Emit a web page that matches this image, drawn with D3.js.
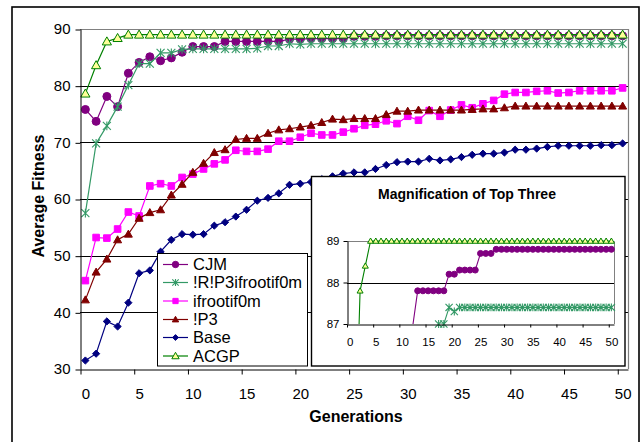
<!DOCTYPE html>
<html>
<head>
<meta charset="utf-8">
<script src="https://cdn.jsdelivr.net/npm/d3@7"></script>
<style>
  body { margin: 0; background: #fff; }
  svg { font-family: 'Liberation Sans', Arial, sans-serif; }
</style>
</head>
<body>
<svg id="chart" width="644" height="442"></svg>
<script>
const generations = [0, 1, 2, 3, 4, 5, 6, 7, 8, 9, 10, 11, 12, 13, 14, 15, 16, 17, 18, 19, 20,
  21, 22, 23, 24, 25, 26, 27, 28, 29, 30, 31, 32, 33, 34, 35, 36, 37, 38, 39, 40,
  41, 42, 43, 44, 45, 46, 47, 48, 49, 50]

const cjm = [75.8, 73.7, 78.1, 76.3, 82.2, 84.1, 85.1, 84.4, 84.9, 85.9, 86.9, 86.9, 86.9,
  87.8, 87.8, 87.8, 87.8, 87.8, 87.8, 88.2, 88.2, 88.3, 88.3, 88.3, 88.3, 88.7, 88.7, 88.7,
  88.8, 88.8, 88.8, 88.8, 88.8, 88.8, 88.8, 88.8, 88.8, 88.8, 88.8, 88.8, 88.8, 88.8, 88.8,
  88.8, 88.8, 88.8, 88.8, 88.8, 88.8, 88.8, 88.8]
const rrp3 = [57.5, 69.8, 72.9, 76.3, 80.1, 83.9, 83.9, 85.8, 85.8, 86.4, 86.5, 86.5, 86.5,
  86.5, 86.5, 86.5, 86.6, 87.0, 87.0, 87.4, 87.3, 87.4, 87.4, 87.4, 87.4, 87.4, 87.4, 87.4,
  87.4, 87.4, 87.4, 87.4, 87.4, 87.4, 87.4, 87.4, 87.4, 87.4, 87.4, 87.4, 87.4, 87.4, 87.4,
  87.4, 87.4, 87.4, 87.4, 87.4, 87.4, 87.4, 87.4]
const ifroot = [45.6, 53.2, 53.1, 54.7, 57.7, 57.0, 62.3, 62.7, 62.3, 63.8, 64.4, 65.3, 66.2,
  66.9, 68.6, 68.4, 68.4, 68.8, 70.2, 70.2, 70.9, 71.6, 71.3, 71.3, 71.8, 72.4, 73.0, 73.2,
  73.8, 73.3, 74.6, 73.9, 75.6, 74.6, 75.7, 76.6, 76.1, 76.8, 77.4, 78.5, 78.8, 78.8, 79.0,
  79.1, 78.7, 78.8, 79.1, 79.1, 79.1, 79.1, 79.6]
const p3 = [42.2, 47.1, 49.4, 52.8, 53.8, 56.6, 57.6, 58.1, 60.7, 62.6, 64.7, 66.3, 68.2,
  68.7, 70.5, 70.7, 70.7, 71.6, 72.2, 72.4, 72.7, 73.0, 73.5, 74.1, 74.0, 74.2, 74.2, 74.2,
  74.9, 75.5, 75.5, 75.7, 75.7, 75.7, 75.7, 75.7, 75.8, 75.9, 75.9, 76.1, 76.4, 76.4, 76.4,
  76.4, 76.4, 76.4, 76.4, 76.4, 76.4, 76.4, 76.4]
const base = [31.5, 32.7, 38.4, 37.5, 41.7, 46.9, 47.4, 50.7, 52.8, 53.8, 53.7, 53.8, 55.3,
  55.9, 56.9, 58.1, 59.7, 60.2, 61.0, 62.5, 62.7, 63.0, 63.5, 64.0, 64.5, 64.7, 64.7, 65.3,
  66.0, 66.5, 66.6, 66.6, 67.1, 66.8, 67.0, 67.4, 67.8, 68.0, 68.0, 68.2, 68.7, 68.7, 68.9,
  69.2, 69.4, 69.4, 69.4, 69.4, 69.5, 69.5, 69.8]
const acgp = [78.6, 83.6, 87.8, 88.4, 89.0, 89.0, 89.0, 89.0, 89.0, 89.0, 89.0, 89.0, 89.0,
  89.0, 89.0, 89.0, 89.0, 89.0, 89.0, 89.0, 89.0, 89.0, 89.0, 89.0, 89.0, 89.0, 89.0, 89.0,
  89.0, 89.0, 89.0, 89.0, 89.0, 89.0, 89.0, 89.0, 89.0, 89.0, 89.0, 89.0, 89.0, 89.0, 89.0,
  89.0, 89.0, 89.0, 89.0, 89.0, 89.0, 89.0, 89.0]

const seriesNames = ['CJM', '!R!P3ifrootif0m', 'ifrootif0m', '!P3', 'Base', 'ACGP']
const xTicks = [0, 5, 10, 15, 20, 25, 30, 35, 40, 45, 50]
const yTicks = [30, 40, 50, 60, 70, 80, 90]
const insetYTicks = [87, 88, 89]

// style of each series, same order as seriesNames
const styles = [
  { values: cjm, color: '#800080', shape: 'circle', size: 4, fill: '#800080' },
  { values: rrp3, color: '#339966', shape: 'star', size: 4, fill: 'none' },
  { values: ifroot, color: '#ff00ff', shape: 'square', size: 3.3, fill: '#ff00ff' },
  { values: p3, color: '#800000', shape: 'triangle', size: 4, fill: '#800000' },
  { values: base, color: '#000080', shape: 'diamond', size: 3.6, fill: '#000080' },
  { values: acgp, color: '#008000', shape: 'triangle', size: 4.6, fill: '#ffff99' },
]

const shapePath = {
  circle: (s) => `M${s},0A${s},${s} 0 1,1 ${-s},0A${s},${s} 0 1,1 ${s},0Z`,
  square: (s) => `M${-s},${-s}h${2 * s}v${2 * s}h${-2 * s}Z`,
  triangle: (s) => `M0,${-s}L${s},${s * 0.75}L${-s},${s * 0.75}Z`,
  diamond: (s) => `M0,${-s}L${s},0L0,${s}L${-s},0Z`,
  star: (s) => `M${-s},${-s}L${s},${s}M${-s},${s}L${s},${-s}M0,${-s * 1.1}L0,${s * 1.1}`,
}

function drawMarkers(g, pts, st, s) {
  g.selectAll(null)
    .data(pts)
    .enter()
    .append('path')
    .attr('transform', (d) => `translate(${d[0]},${d[1]})`)
    .attr('d', shapePath[st.shape](s))
    .attr('fill', st.fill)
    .attr('stroke', st.color)
    .attr('stroke-width', st.shape == 'star' ? 1.1 : 1)
}

const svg = d3.select('#chart')

svg
  .append('rect')
  .attr('x', 12)
  .attr('y', 7)
  .attr('width', 627)
  .attr('height', 460)
  .attr('fill', 'none')
  .attr('stroke', '#000')
  .attr('stroke-width', 1.6)

// ---------- main chart ----------
const plot = { left: 80, right: 628, top: 29, bottom: 369 }

const x = d3.scaleLinear().domain([-0.5, 50.5]).range([plot.left, plot.right])
const y = d3.scaleLinear().domain([30, 90]).range([plot.bottom, plot.top])

svg
  .append('g')
  .selectAll('line')
  .data(yTicks.filter((d) => d > 30 && d < 90))
  .enter()
  .append('line')
  .attr('x1', plot.left)
  .attr('x2', plot.right)
  .attr('y1', (d) => Math.round(y(d)) + 0.5)
  .attr('y2', (d) => Math.round(y(d)) + 0.5)
  .attr('stroke', '#000')

svg
  .append('path')
  .attr('d', `M${plot.left},${plot.top + 0.5}H${plot.right + 0.5}V${plot.bottom}`)
  .attr('fill', 'none')
  .attr('stroke', '#808080')
  .attr('stroke-width', 1.2)

const line = d3
  .line()
  .x((d, i) => x(generations[i]))
  .y((d) => y(d))

styles.forEach((st) => {
  svg
    .append('path')
    .attr('d', line(st.values))
    .attr('fill', 'none')
    .attr('stroke', st.color)
    .attr('stroke-width', 1.2)
  const pts = st.values.map((v, i) => [x(generations[i]), y(v)])
  drawMarkers(svg.append('g'), pts, st, st.size)
})

const xAxisTicks = svg
  .append('g')
  .attr('transform', `translate(0,${plot.bottom + 0.5})`)
  .call(
    d3
      .axisBottom(x)
      .tickValues(xTicks.map((d) => d - 0.5))
      .tickFormat('')
      .tickSize(5)
      .tickSizeOuter(0)
  )
xAxisTicks.selectAll('line').attr('transform', 'translate(0.5,0)')

const xAxisLabels = svg
  .append('g')
  .attr('transform', `translate(0,${plot.bottom + 0.5})`)
  .call(d3.axisBottom(x).tickValues(xTicks).tickSize(0).tickPadding(19))
xAxisLabels.select('.domain').remove()

const yAxis = svg
  .append('g')
  .attr('transform', `translate(${plot.left + 0.5},0)`)
  .call(d3.axisLeft(y).tickValues(yTicks).tickSize(5).tickSizeOuter(0).tickPadding(5))
yAxis.selectAll('.tick line').attr('transform', 'translate(0,0.5)')

svg
  .selectAll('.tick text')
  .attr('font-size', 15)
  .attr('font-family', "'Liberation Sans', Arial, sans-serif")
  .attr('fill', '#000')
svg.selectAll('.domain, .tick line').attr('stroke', '#000')

svg
  .append('text')
  .attr('x', 356)
  .attr('y', 422)
  .attr('text-anchor', 'middle')
  .attr('font-size', 16)
  .attr('font-weight', 'bold')
  .text('Generations')

svg
  .append('text')
  .attr('transform', 'translate(44,196) rotate(-90)')
  .attr('text-anchor', 'middle')
  .attr('font-size', 16)
  .attr('font-weight', 'bold')
  .text('Average Fitness')

// ---------- legend ----------
const legend = svg.append('g')
legend
  .append('rect')
  .attr('x', 157.5)
  .attr('y', 253.5)
  .attr('width', 150)
  .attr('height', 112.5)
  .attr('fill', '#fff')
  .attr('stroke', '#000')

const legendRows = [264.5, 282.5, 301, 319.5, 337.5, 356]
styles.forEach((st, i) => {
  const ly = legendRows[i]
  legend
    .append('line')
    .attr('x1', 163)
    .attr('x2', 188)
    .attr('y1', ly)
    .attr('y2', ly)
    .attr('stroke', st.color)
    .attr('stroke-width', 1.2)
  drawMarkers(legend.append('g'), [[175.5, ly]], st, st.size * 0.8)
  legend
    .append('text')
    .attr('x', 193)
    .attr('y', ly)
    .attr('dy', '0.35em')
    .attr('font-size', 16.5)
    .text(seriesNames[i])
})

// ---------- inset ----------
const inset = svg.append('g')
inset
  .append('rect')
  .attr('x', 311.5)
  .attr('y', 176.5)
  .attr('width', 313.5)
  .attr('height', 189.5)
  .attr('fill', '#fff')
  .attr('stroke', '#000')
  .attr('stroke-width', 1.4)

inset
  .append('text')
  .attr('x', 467)
  .attr('y', 199)
  .attr('text-anchor', 'middle')
  .attr('font-size', 14)
  .attr('font-weight', 'bold')
  .text('Magnification of Top Three')

const ip = { left: 347, right: 614, top: 241, bottom: 324 }
const xi = d3.scaleLinear().domain([-0.5, 50.5]).range([ip.left, ip.right])
const yi = d3.scaleLinear().domain([87, 89]).range([ip.bottom, ip.top])

svg
  .append('clipPath')
  .attr('id', 'inset-clip')
  .append('rect')
  .attr('x', ip.left)
  .attr('y', ip.top - 10)
  .attr('width', ip.right - ip.left + 10)
  .attr('height', ip.bottom - ip.top + 10)

inset
  .append('line')
  .attr('x1', ip.left)
  .attr('x2', ip.right)
  .attr('y1', Math.round(yi(88)) + 0.5)
  .attr('y2', Math.round(yi(88)) + 0.5)
  .attr('stroke', '#000')

inset
  .append('path')
  .attr('d', `M${ip.left},${ip.top + 0.5}H${ip.right + 0.5}V${ip.bottom}`)
  .attr('fill', 'none')
  .attr('stroke', '#808080')

const lineI = d3
  .line()
  .x((d, i) => xi(generations[i]))
  .y((d) => yi(d))

const topThree = [styles[0], styles[1], styles[5]]
topThree.forEach((st) => {
  inset
    .append('path')
    .attr('d', lineI(st.values))
    .attr('clip-path', 'url(#inset-clip)')
    .attr('fill', 'none')
    .attr('stroke', st.color)
    .attr('stroke-width', 1.1)
  const pts = st.values
    .map((v, i) => [xi(generations[i]), yi(v), v])
    .filter((d) => d[2] >= 87)
  drawMarkers(inset.append('g'), pts, st, st.shape == 'star' ? 3.6 : 3)
})

const ixTicks = inset
  .append('g')
  .attr('transform', `translate(0,${ip.bottom + 0.5})`)
  .call(
    d3
      .axisBottom(xi)
      .tickValues(xTicks.map((d) => d - 0.5))
      .tickFormat('')
      .tickSize(3)
      .tickSizeOuter(0)
  )

const ixLabels = inset
  .append('g')
  .attr('transform', `translate(0,${ip.bottom + 0.5})`)
  .call(d3.axisBottom(xi).tickValues(xTicks).tickSize(0).tickPadding(13))
ixLabels.select('.domain').remove()

const iyAxis = inset
  .append('g')
  .attr('transform', `translate(${ip.left + 0.5},0)`)
  .call(
    d3
      .axisLeft(yi)
      .tickValues(insetYTicks)
      .tickFormat(d3.format('d'))
      .tickSize(4)
      .tickSizeOuter(0)
      .tickPadding(4)
  )

inset
  .selectAll('.tick text')
  .attr('font-size', 11.5)
  .attr('font-family', "'Liberation Sans', Arial, sans-serif")
  .attr('fill', '#000')
inset.selectAll('.domain, .tick line').attr('stroke', '#000')
</script>
</body>
</html>
